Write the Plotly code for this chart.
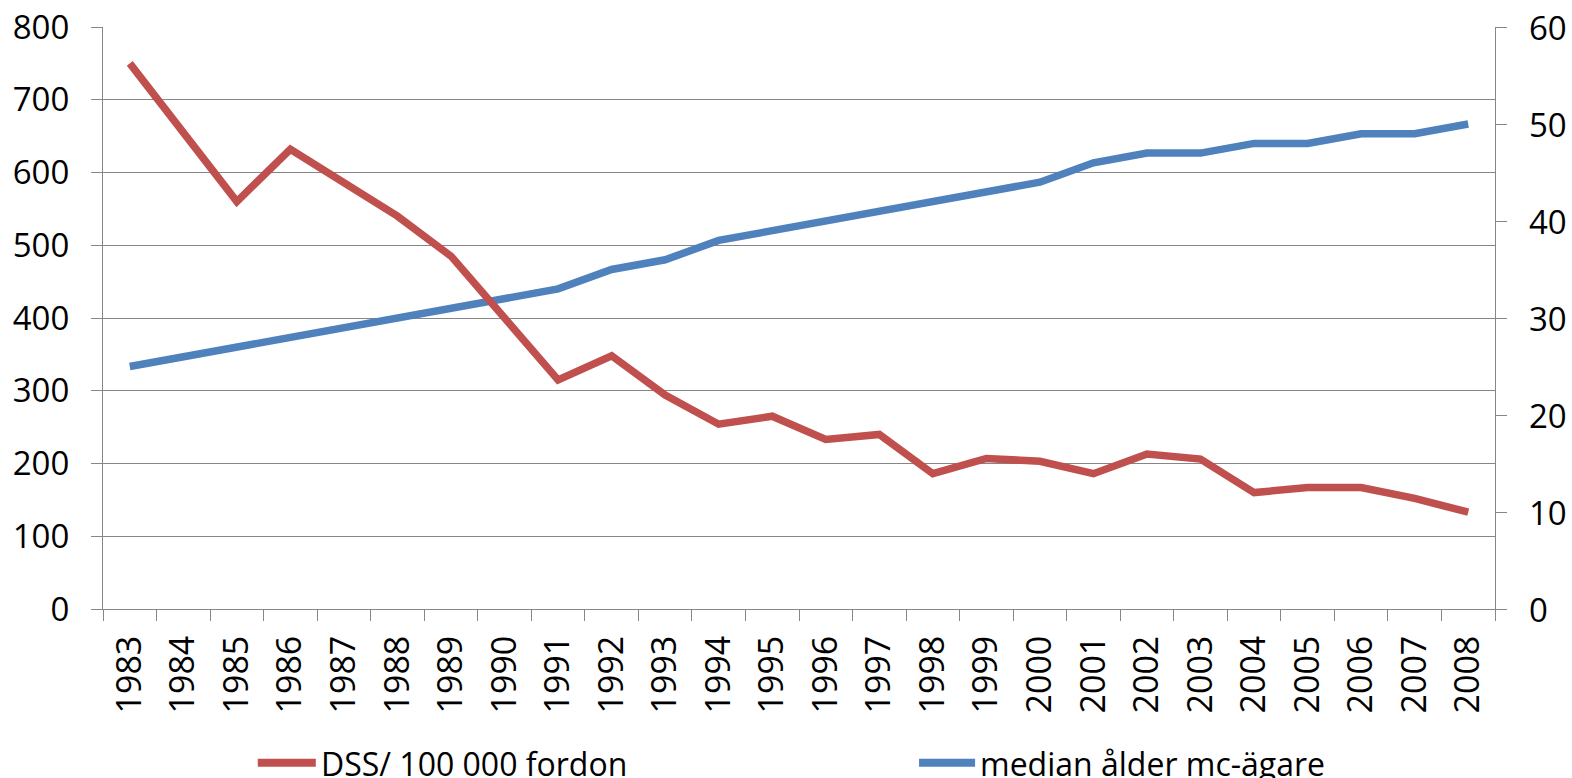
import plotly.graph_objects as go

years = [str(y) for y in range(1983, 2009)]
dss = [750, 655, 560, 632, 587, 540, 485, 400, 315, 348, 294, 254, 265, 233, 240,
       186, 207, 203, 186, 213, 206, 160, 167, 167, 152, 133]
median_age = [25, 26, 27, 28, 29, 30, 31, 32, 33, 35, 36, 38, 39, 40, 41,
              42, 43, 44, 46, 47, 47, 48, 48, 49, 49, 50]
right_ticks = [0, 10, 20, 30, 40, 50, 60]

RED = "#C0504D"
BLUE = "#4F81BD"
GRID = "#868686"
FONT = "Open Sans"
FS_Y = 33
FS_X = 34
FS_LEG = 32

W, H = 1572, 778
L, R, T, B = 103.3, 1494.7, 27.3, 609.3

fig = go.Figure()
fig.add_trace(go.Scatter(x=years, y=median_age, mode="lines", name="median ålder mc-ägare",
                         line=dict(color=BLUE, width=7.5), yaxis="y"))
fig.add_trace(go.Scatter(x=years, y=dss, mode="lines", name="DSS/ 100 000 fordon",
                         line=dict(color=RED, width=7.5), yaxis="y2"))

def px_x(p):
    return (p - L) / (R - L)

def px_y(p):
    return (B - p) / (B - T)

legend_items = [(258, 316, 320, RED, "DSS/ 100 000 fordon"),
                (919, 975, 979, BLUE, "median ålder mc-ägare")]
shapes = []
annotations = []
for x0, x1, xt, col, txt in legend_items:
    shapes.append(dict(type="line", xref="paper", yref="paper",
                       x0=px_x(x0), x1=px_x(x1), y0=px_y(763), y1=px_y(763),
                       line=dict(color=col, width=8)))
    annotations.append(dict(xref="paper", yref="paper", x=px_x(xt), y=px_y(764),
                            xanchor="left", yanchor="middle", showarrow=False,
                            text=txt, font=dict(family=FONT, size=FS_LEG, color="black"),
                            borderpad=0))

# right-axis tick labels, positioned on the right y axis scale
for v in right_ticks:
    annotations.append(dict(xref="paper", yref="y", x=px_x(1528), y=v,
                            xanchor="left", yanchor="middle", showarrow=False,
                            text=str(v), font=dict(family=FONT, size=FS_Y, color="black"),
                            borderpad=0))

fig.update_layout(
    width=W, height=H,
    margin=dict(l=L, r=W - R, t=T, b=H - B, autoexpand=False),
    paper_bgcolor="white", plot_bgcolor="white",
    showlegend=False,
    font=dict(family=FONT, size=FS_Y, color="black"),
    xaxis=dict(type="category", tickson="boundaries", ticks="outside", ticklen=11,
               tickcolor=GRID, tickwidth=1.3, showline=True, linecolor=GRID, linewidth=1.3,
               showgrid=False, tickangle=-90, range=[-0.5, 25.5], ticklabelstandoff=12,
               tickfont=dict(family=FONT, size=FS_X, color="black")),
    yaxis=dict(side="right", range=[0, 60], tickvals=right_ticks, ticks="outside", ticklen=11,
               tickcolor=GRID, tickwidth=1.3, showline=True, linecolor=GRID, linewidth=1.3,
               showgrid=False, zeroline=False, showticklabels=False),
    yaxis2=dict(side="left", overlaying="y", range=[0, 800], dtick=100, tick0=0,
                ticks="outside", ticklen=11, tickcolor=GRID, tickwidth=1.3,
                showline=True, linecolor=GRID, linewidth=1.3, ticklabelstandoff=15,
                showgrid=True, gridcolor=GRID, gridwidth=1.3, zeroline=False,
                tickfont=dict(family=FONT, size=FS_Y, color="black")),
    shapes=shapes,
    annotations=annotations,
)

fig.write_html("out.html", post_script="document.body.style.margin='0';",
               config={"displayModeBar": False})
